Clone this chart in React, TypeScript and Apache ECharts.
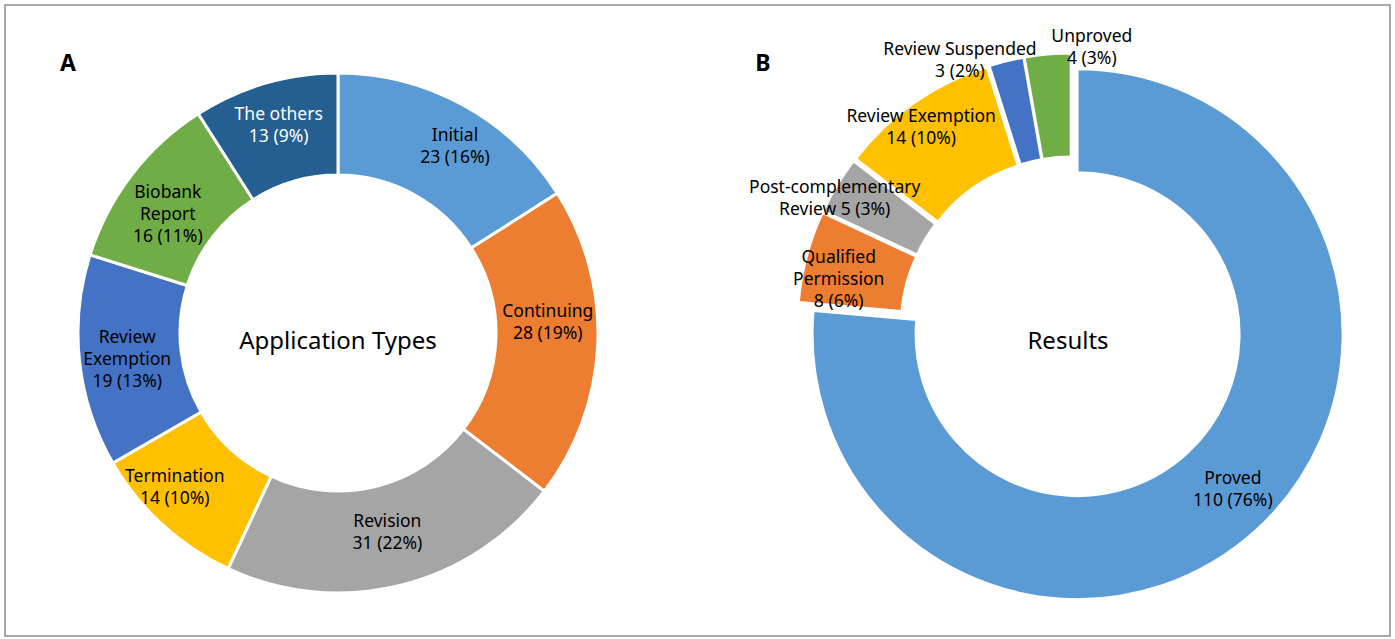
import React, { useEffect, useRef } from "react";
import * as echarts from "echarts";

// ---- data ----
const appCategories = ["Initial", "Continuing", "Revision", "Termination", "Review Exemption", "Biobank Report", "The others"];
const appValues = [23, 28, 31, 14, 19, 16, 13];
const appLabelNames = ["Initial", "Continuing", "Revision", "Termination", "Review\nExemption", "Biobank\nReport", "The others"];

const resultCategories = ["Proved", "Qualified Permission", "Post-complementary Review", "Review Exemption", "Review Suspended", "Unproved"];
const resultValues = [110, 8, 5, 14, 3, 4];
const resultLabelNames = ["Proved", "Qualified\nPermission", "Post-complementary\nReview", "Review Exemption", "Review Suspended", "Unproved"];
const resultValueSeparators = ["\n", "\n", " ", "\n", "\n", "\n"];

// ---- styles / layout ----
const appColors = ["#5B9BD5", "#ED7D31", "#A5A5A5", "#FFC000", "#4472C4", "#70AD47", "#255E91"];
const appTextColors = ["#000", "#000", "#000", "#000", "#000", "#000", "#fff"];
const resultColors = ["#5B9BD5", "#ED7D31", "#A5A5A5", "#FFC000", "#4472C4", "#70AD47"];
const appLabelShift = [[15, -2], [-2, -21], [-1, -8], [-20, -3], [0, 2], [-2, 9], [0, -5]];
const resultLabelShift = [[9, -6], [-15, 9], [-44, -14], [-21, -17], [-58, -49], [40, -57]];

const FONT = "'Noto Sans', 'Noto Sans CJK KR', sans-serif";

function pct(v: number, arr: number[]) {
  const total = arr.reduce((a, b) => a + b, 0);
  return Math.round((v / total) * 100);
}

export default function App() {
  const ref = useRef<HTMLDivElement>(null);
  useEffect(() => {
    if (!ref.current) return;
    const chart = echarts.init(ref.current, undefined, { renderer: "svg" });
    chart.setOption({
      animation: false,
      graphic: [
        {
          type: "rect",
          shape: { x: 5, y: 5, width: 1385, height: 631 },
          style: { fill: "none", stroke: "#8c8c8c", lineWidth: 1.5 },
          z: 0,
        },
        { type: "text", x: 68, y: 62, style: { text: "A", font: `bold 23px ${FONT}`, fill: "#000", textAlign: "center", textVerticalAlign: "middle" } },
        { type: "text", x: 763, y: 62, style: { text: "B", font: `bold 23px ${FONT}`, fill: "#000", textAlign: "center", textVerticalAlign: "middle" } },
        { type: "text", x: 338, y: 339, style: { text: "Application Types", font: `24px ${FONT}`, fill: "#000", textAlign: "center", textVerticalAlign: "middle" } },
        { type: "text", x: 1068, y: 339, style: { text: "Results", font: `24px ${FONT}`, fill: "#000", textAlign: "center", textVerticalAlign: "middle" } },
      ],
      series: [
        {
          type: "pie",
          center: [338, 333],
          radius: [158, 260],
          startAngle: 90,
          clockwise: true,
          avoidLabelOverlap: false,
          emphasis: { disabled: true },
          itemStyle: { borderColor: "#fff", borderWidth: 3 },
          label: {
            show: true,
            position: "inside",
            fontFamily: FONT,
            fontSize: 17.5,
            lineHeight: 22,
            align: "center",
            formatter: (p: any) => `${appLabelNames[p.dataIndex]}\n${p.value} (${pct(p.value, appValues)}%)`,
          },
          labelLayout: (p: any) => ({ dx: appLabelShift[p.dataIndex][0], dy: appLabelShift[p.dataIndex][1] }),
          data: appCategories.map((name, i) => ({
            name,
            value: appValues[i],
            itemStyle: { color: appColors[i] },
            label: { color: appTextColors[i] },
          })),
        },
        {
          type: "pie",
          center: [1071.5, 327.5],
          radius: [162, 265],
          startAngle: 90,
          clockwise: true,
          avoidLabelOverlap: false,
          selectedMode: "multiple",
          selectedOffset: 9,
          emphasis: { disabled: true },
          select: { disabled: false, itemStyle: { borderColor: "#fff", borderWidth: 2 }, label: { color: "#000" } },
          itemStyle: { borderColor: "#fff", borderWidth: 2 },
          label: {
            show: true,
            position: "inside",
            fontFamily: FONT,
            fontSize: 17.5,
            lineHeight: 22,
            align: "center",
            color: "#000",
            formatter: (p: any) =>
              `${resultLabelNames[p.dataIndex]}${resultValueSeparators[p.dataIndex]}${p.value} (${pct(p.value, resultValues)}%)`,
          },
          labelLayout: (p: any) => ({ dx: resultLabelShift[p.dataIndex][0], dy: resultLabelShift[p.dataIndex][1] }),
          data: resultCategories.map((name, i) => ({
            name,
            value: resultValues[i],
            selected: true,
            itemStyle: { color: resultColors[i] },
            select: { itemStyle: { color: resultColors[i] } },
          })),
        },
      ],
    });
    return () => chart.dispose();
  }, []);
  return (
    <div
      ref={ref}
      style={{ position: "absolute", left: 0, top: 0, width: 1395, height: 639, background: "#fff" }}
    />
  );
}
